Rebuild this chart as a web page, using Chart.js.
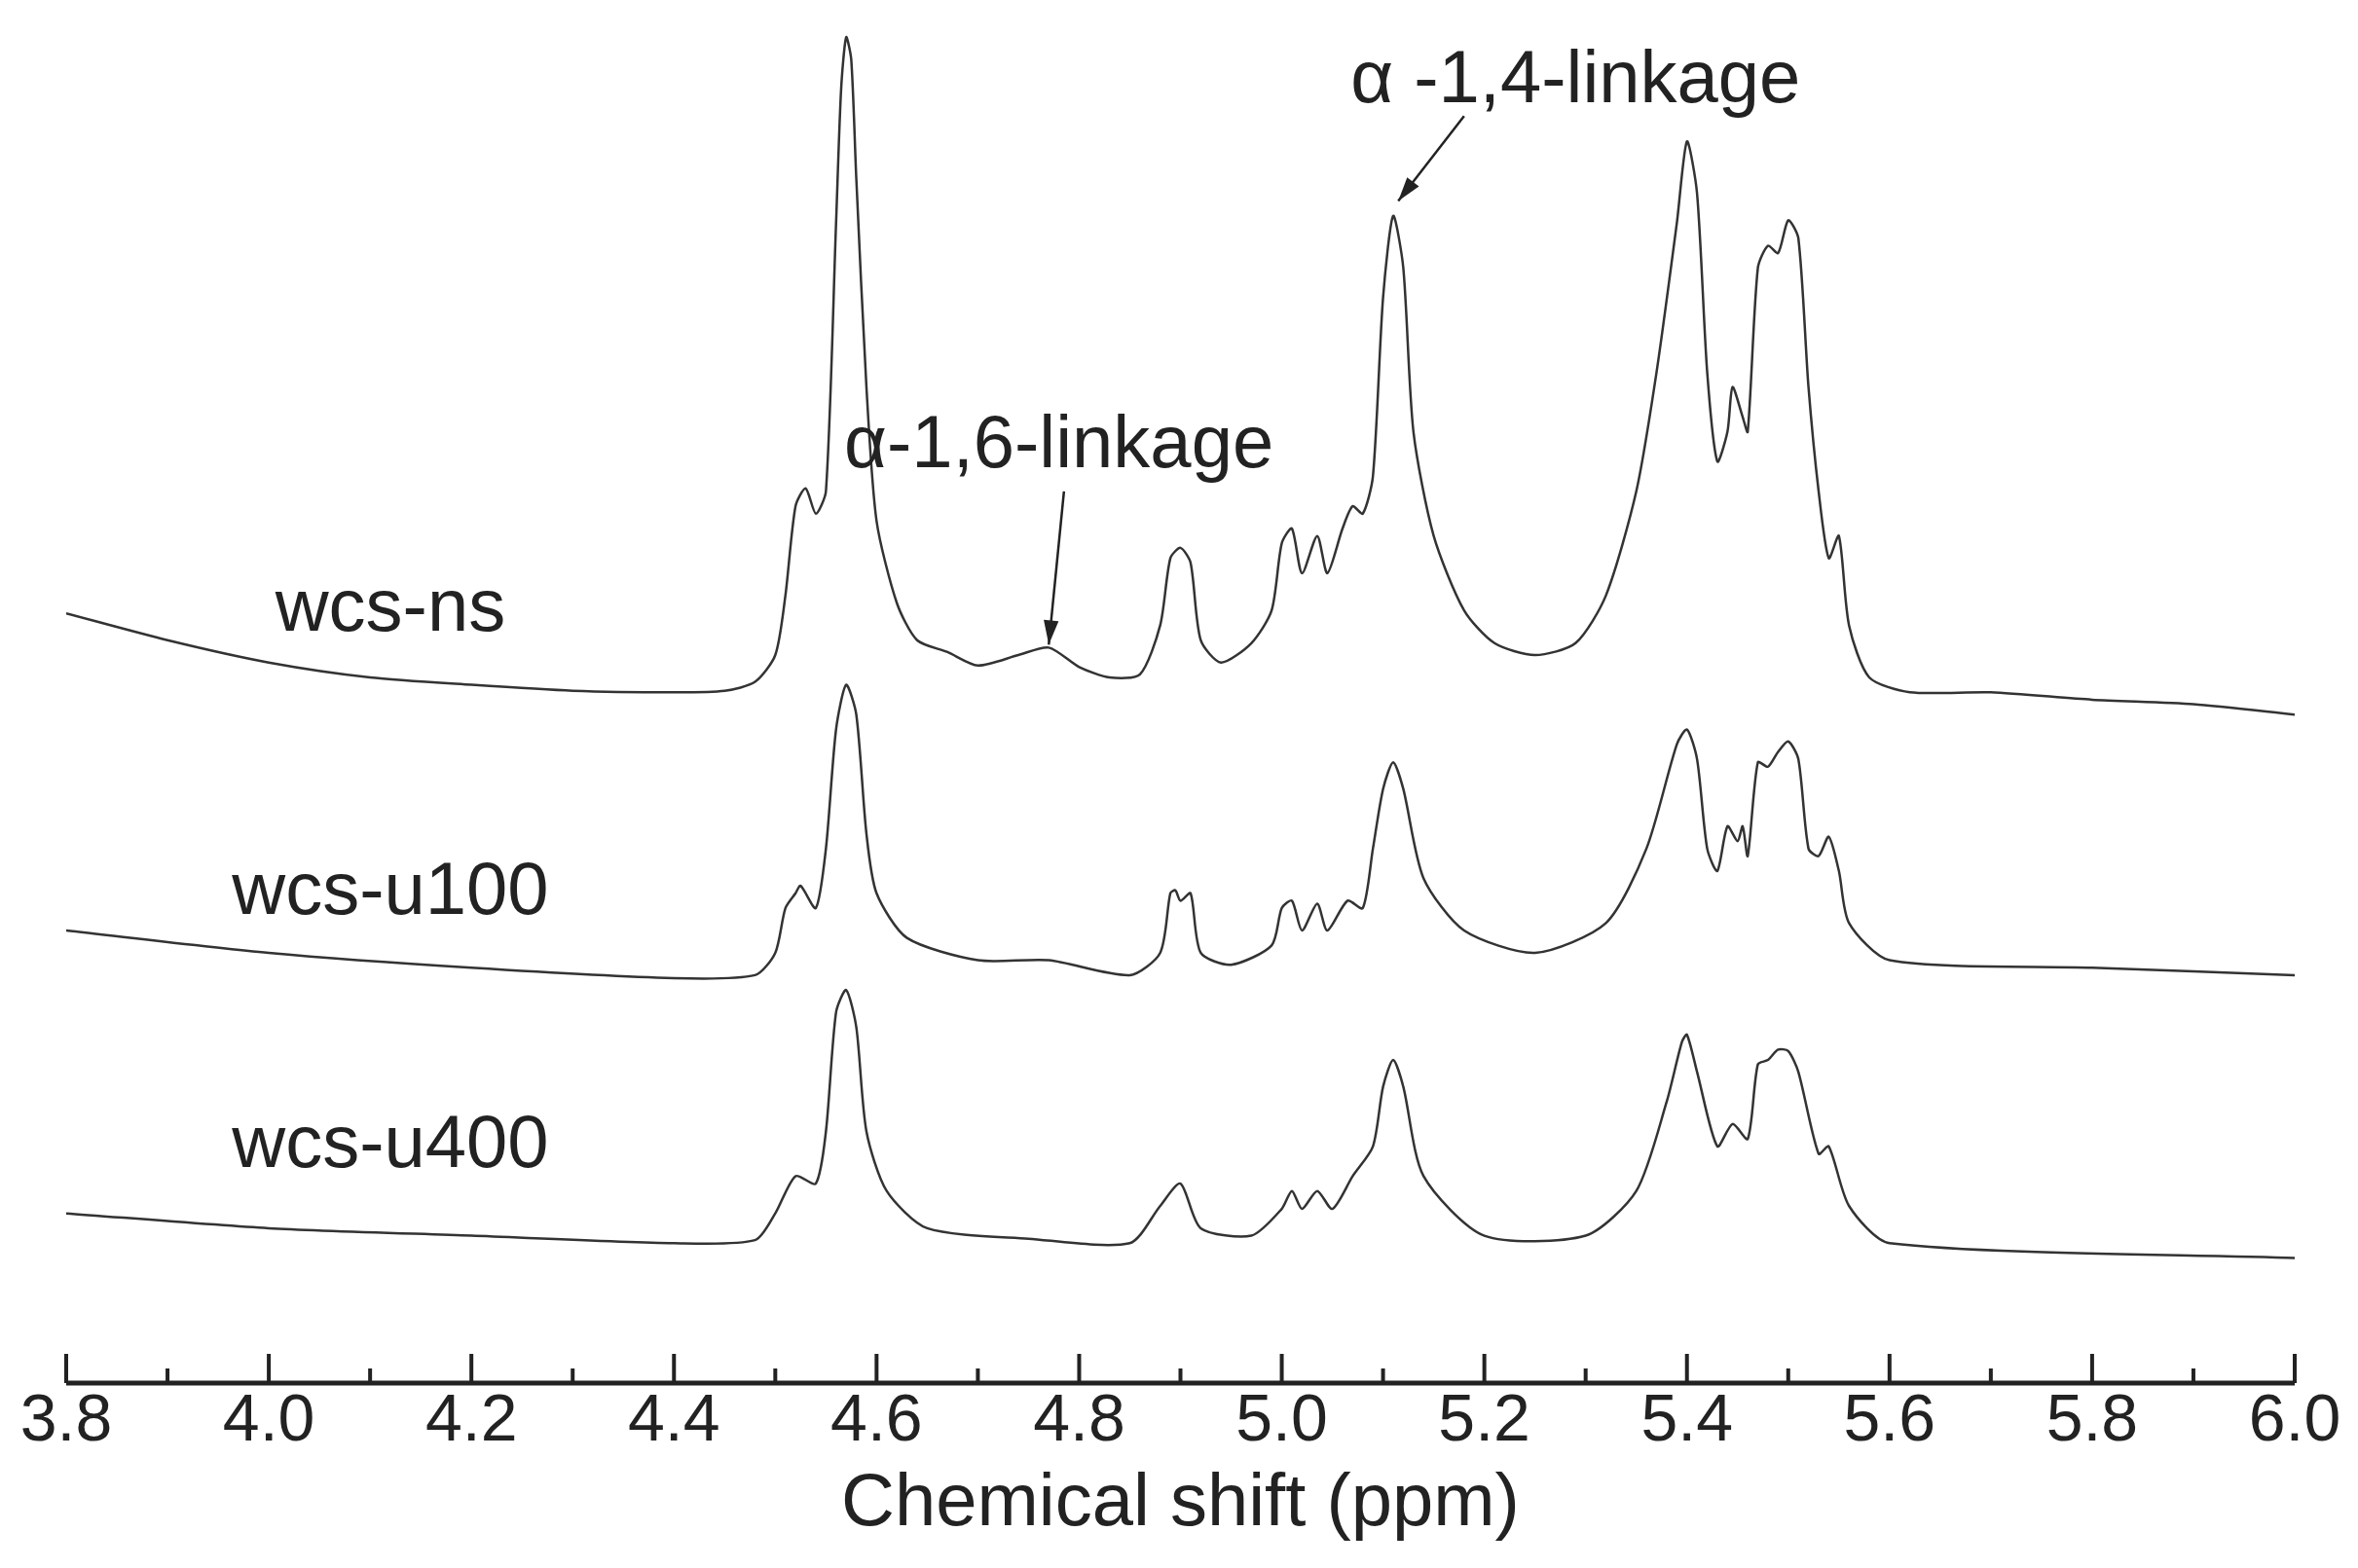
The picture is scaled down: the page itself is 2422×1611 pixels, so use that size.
<!DOCTYPE html>
<html>
<head>
<meta charset="utf-8">
<script src="https://cdn.jsdelivr.net/npm/chart.js@4"></script>
<style>body{margin:0;background:#fff}</style>
</head>
<body>
<canvas id="c" width="2422" height="1611"></canvas>
<script>
// chemical shift (ppm) and trace level (vertical offset, down is larger)
var nsX = [3.8,3.9,4.0,4.1,4.2,4.3,4.4,4.45,4.48,4.50,4.51,4.52,4.53,4.54,4.55,4.56,4.565,4.57,4.575,4.58,4.59,4.60,4.62,4.64,4.67,4.70,4.74,4.77,4.80,4.83,4.86,4.88,4.89,4.90,4.91,4.92,4.94,4.97,4.99,5.00,5.01,5.02,5.035,5.045,5.06,5.07,5.08,5.09,5.10,5.11,5.12,5.13,5.15,5.18,5.21,5.25,5.29,5.32,5.35,5.37,5.39,5.40,5.41,5.42,5.43,5.44,5.445,5.455,5.46,5.47,5.48,5.49,5.50,5.51,5.52,5.53,5.54,5.55,5.56,5.58,5.62,5.7,5.8,5.9,6.0];
var nsY = [412,430,445,455,460,464,465,464,458,440,400,340,328,345,330,150,60,25,40,120,260,350,405,430,438,447,440,435,448,455,453,420,375,368,378,430,445,432,410,365,355,385,360,385,355,340,345,320,200,145,180,290,360,410,432,440,432,400,330,250,150,95,130,250,310,290,260,280,290,180,165,170,148,160,260,330,375,360,420,455,465,465,470,473,480];
var u100X = [3.8,4.0,4.2,4.4,4.48,4.50,4.51,4.52,4.525,4.54,4.55,4.56,4.57,4.58,4.59,4.60,4.63,4.7,4.77,4.85,4.88,4.89,4.895,4.90,4.91,4.92,4.95,4.99,5.00,5.01,5.02,5.035,5.045,5.065,5.08,5.09,5.10,5.11,5.12,5.14,5.18,5.25,5.32,5.36,5.39,5.40,5.41,5.42,5.43,5.44,5.45,5.455,5.46,5.47,5.48,5.49,5.50,5.51,5.52,5.53,5.54,5.55,5.56,5.6,5.8,6.0];
var u100Y = [625,640,650,657,655,640,610,600,595,610,570,490,460,480,560,600,630,645,645,655,640,600,598,605,600,640,648,635,610,605,625,607,625,605,610,570,530,512,530,590,625,640,620,570,500,490,510,570,585,555,565,555,575,512,515,505,498,510,570,575,562,585,620,645,650,655];
var u400X = [3.8,4.0,4.2,4.4,4.48,4.50,4.52,4.54,4.55,4.56,4.57,4.58,4.59,4.61,4.65,4.75,4.85,4.88,4.90,4.92,4.97,5.00,5.01,5.02,5.035,5.05,5.07,5.09,5.10,5.11,5.12,5.14,5.2,5.3,5.35,5.38,5.395,5.40,5.41,5.43,5.445,5.46,5.47,5.48,5.49,5.50,5.51,5.53,5.54,5.56,5.6,6.0];
var u400Y = [815,825,830,835,833,815,790,795,760,680,665,690,760,800,825,832,835,810,795,825,830,812,800,812,800,812,790,770,730,712,730,790,830,830,800,740,700,695,720,770,755,765,715,712,705,706,720,775,770,810,835,845];
var tickLabels = ['3.8','4.0','4.2','4.4','4.6','4.8','5.0','5.2','5.4','5.6','5.8','6.0'];
var seriesNames = ['wcs-ns','wcs-u100','wcs-u400'];

function pts(xs, ys) {
  var out = [];
  for (var i = 0; i < xs.length; i++) out.push({x: xs[i], y: ys[i]});
  return out;
}
function ds(name, xs, ys) {
  return {label: name, data: pts(xs, ys), borderColor: '#333', borderWidth: 2.5,
    pointRadius: 0, tension: 0.25, fill: false};
}

var FONT = 'Liberation Sans, Arial, sans-serif';

function arrow(ctx, x1, y1, x2, y2) {
  ctx.beginPath(); ctx.moveTo(x1, y1); ctx.lineTo(x2, y2); ctx.stroke();
  var a = Math.atan2(y2 - y1, x2 - x1), L = 26;
  ctx.beginPath();
  ctx.moveTo(x2, y2);
  ctx.lineTo(x2 - L * Math.cos(a - 0.3), y2 - L * Math.sin(a - 0.3));
  ctx.lineTo(x2 - L * Math.cos(a + 0.3), y2 - L * Math.sin(a + 0.3));
  ctx.closePath(); ctx.fill();
}

var decor = {
  id: 'decor',
  afterDraw: function(chart) {
    var ctx = chart.ctx, xs = chart.scales.x, ys = chart.scales.y;
    var base = chart.chartArea.bottom;
    ctx.save();
    ctx.strokeStyle = '#222'; ctx.fillStyle = '#222'; ctx.lineWidth = 5;
    ctx.beginPath(); ctx.moveTo(xs.left, base); ctx.lineTo(xs.right, base); ctx.stroke();
    ctx.lineWidth = 4;
    for (var i = 0; i <= 22; i++) {
      var v = 3.8 + i * 0.1, px = xs.getPixelForValue(v);
      ctx.beginPath(); ctx.moveTo(px, base); ctx.lineTo(px, base - (i % 2 ? 15 : 30)); ctx.stroke();
    }
    ctx.font = '68px ' + FONT; ctx.textAlign = 'center'; ctx.textBaseline = 'middle';
    for (var j = 0; j < tickLabels.length; j++) {
      ctx.fillText(tickLabels[j], xs.getPixelForValue(parseFloat(tickLabels[j])), base + 40);
    }
    ctx.font = '76px ' + FONT;
    ctx.fillText('Chemical shift (ppm)', xs.getPixelForValue(4.9), base + 125);
    var labelY = [410, 600, 770];
    for (var k = 0; k < seriesNames.length; k++) {
      ctx.fillText(seriesNames[k], xs.getPixelForValue(4.12), ys.getPixelForValue(labelY[k]));
    }
    ctx.fillText('\u03b1-1,6-linkage', xs.getPixelForValue(4.78), ys.getPixelForValue(300));
    ctx.fillText('\u03b1 -1,4-linkage', xs.getPixelForValue(5.29), ys.getPixelForValue(55));
    ctx.lineWidth = 2.5;
    arrow(ctx, xs.getPixelForValue(4.785), ys.getPixelForValue(330), xs.getPixelForValue(4.77), ys.getPixelForValue(433));
    arrow(ctx, xs.getPixelForValue(5.18), ys.getPixelForValue(78), xs.getPixelForValue(5.115), ys.getPixelForValue(135));
    ctx.restore();
  }
};

new Chart(document.getElementById('c').getContext('2d'), {
  type: 'line',
  data: {datasets: [ds(seriesNames[0], nsX, nsY), ds(seriesNames[1], u100X, u100Y), ds(seriesNames[2], u400X, u400Y)]},
  options: {
    responsive: false, animation: false,
    layout: {padding: {left: 68, right: 65, top: 0, bottom: 190}},
    plugins: {legend: {display: false}, tooltip: {enabled: false}},
    scales: {
      x: {type: 'linear', min: 3.8, max: 6.0, display: false},
      y: {type: 'linear', min: 0, max: 929, reverse: true, display: false}
    }
  },
  plugins: [decor]
});
</script>
</body>
</html>
